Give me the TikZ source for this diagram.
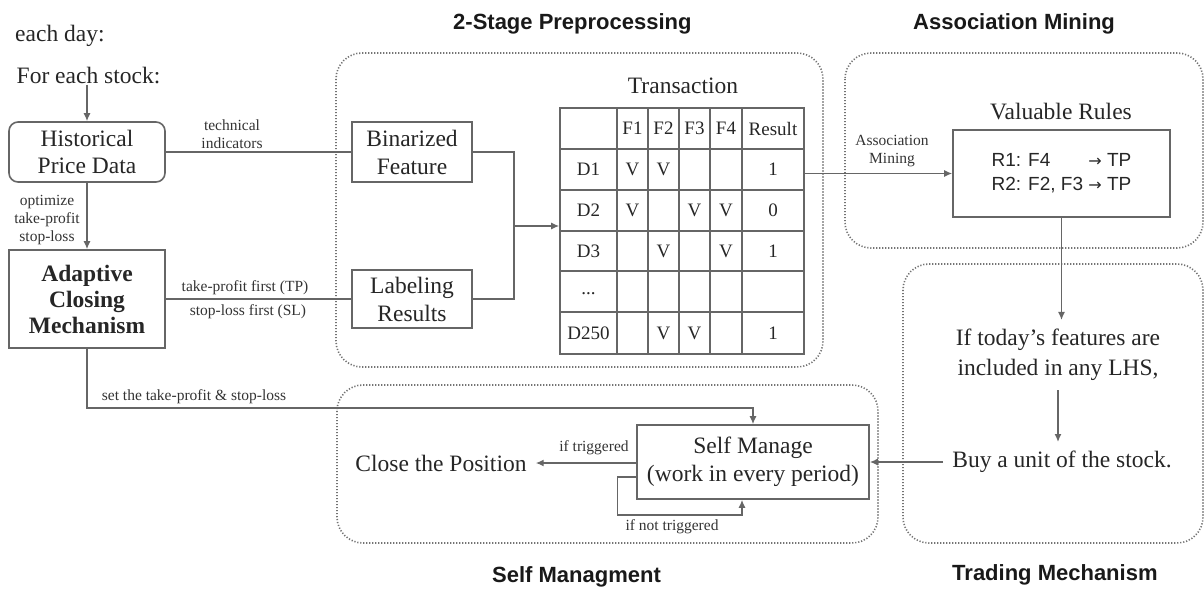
\documentclass[tikz,border=0pt]{standalone}
\usepackage{fontspec}
\setmainfont{Liberation Serif}
\setsansfont{Liberation Sans}
\newfontfamily\djv{DejaVu Sans}
\usetikzlibrary{arrows.meta}
\tikzset{
  lc/.style={draw=black!60, line width=1.4pt},
  arr/.style={lc, -{Latex[length=8pt,width=7pt]}},
  box/.style={draw=black!60, line width=1.6pt, fill=white, text=black!85, align=center, inner sep=0pt, font=\fontsize{23.5}{27}\selectfont},
  txt/.style={text=black!85, align=center, font=\fontsize{23.5}{30}\selectfont, inner sep=9pt},
  small/.style={text=black!80, align=center, font=\fontsize{15.5}{18}\selectfont, inner sep=0pt},
  group/.style={draw=black!55, line width=1.6pt, dash pattern=on 1.2pt off 1.8pt, rounded corners=26pt},
  title/.style={font=\sffamily\bfseries\fontsize{22}{26}\selectfont, text=black!90, anchor=west, inner sep=0pt},
  cell/.style={font=\fontsize{19}{22}\selectfont, text=black!85, inner sep=0pt},
  grid/.style={draw=black!60, line width=1.4pt},
}
\newcommand{\rarr}{{\djv\fontsize{16}{20}\selectfont →}}
\begin{document}
\begin{tikzpicture}[x=1pt, y=-1pt]
\useasboundingbox (0,0) rectangle (1204,590);

% group frames
\draw[group] (336,53) rectangle (823,367);
\draw[group] (845,53) rectangle (1203,248);
\draw[group] (903,264) rectangle (1203,543);
\draw[group] (337,385) rectangle (878,543);

% titles
\node[title] (t1) at (453,24) {2-Stage Preprocessing};
\node[title] (t2) at (913,24) {Association Mining};
\node[title] (t3) at (492,577) {Self Managment};
\node[title] (t4) at (952,575) {Trading Mechanism};

% left column
\node[txt, anchor=west, inner sep=0pt] (eachday) at (15,36) {each day:};
\node[txt, inner sep=0pt] (fes) at (88.5,76) {For each stock:};
\node[box, rounded corners=9pt, minimum width=156pt, minimum height=60pt] (hpd) at (87,152) {Historical\\Price Data};
\node[box, minimum width=156pt, minimum height=98pt, font=\bfseries\fontsize{23.5}{26}\selectfont] (acm) at (87,299) {Adaptive\\Closing\\Mechanism};

% preprocessing
\node[box, minimum width=120pt, minimum height=60pt, font=\fontsize{23.5}{28}\selectfont] (bin) at (412,152) {Binarized\\Feature};
\node[box, minimum width=120pt, minimum height=58pt, font=\fontsize{23.5}{28}\selectfont] (lab) at (412,299) {Labeling\\Results};
\coordinate (merge) at (514,226);

% table
\node[txt, inner sep=0pt] (trans) at (683,86) {Transaction};
\node[draw=black!60, line width=1.6pt, minimum width=244pt, minimum height=246pt, inner sep=0pt] (tab) at (682,231) {};
\foreach \x in {617,648,679,710,742} \draw[grid] (\x,108) -- (\x,354);
\foreach \y in {149,190,231,271,312} \draw[grid] (560,\y) -- (804,\y);
\foreach \x/\t [count=\i] in {632.5/F1, 663.5/F2, 694.5/F3, 726/F4, 773/Result}
  \node[cell] (h\i) at (\x,128.5) {\t};
\foreach \y/\t [count=\i] in {169.5/D1, 210.5/D2, 251.5/D3, 294/{...}, 333/D250}
  \node[cell] (d\i) at (588.5,\y) {\t};
\foreach \x/\y [count=\i] in {632.5/169.5, 663.5/169.5, 632.5/210.5, 694.5/210.5, 726/210.5, 663.5/251.5, 726/251.5, 663.5/333, 694.5/333}
  \node[cell] (v\i) at (\x,\y) {V};
\foreach \y/\t [count=\i] in {169.5/1, 210.5/0, 251.5/1, 333/1}
  \node[cell] (r\i) at (773,\y) {\t};

% association mining
\node[txt, inner sep=0pt] (vrt) at (1061,112) {Valuable Rules};
\node[box, minimum width=217pt, minimum height=87pt, font=\sffamily\fontsize{19}{24}\selectfont] (vr) at (1061.5,173.5)
  {\begin{tabular}{@{}l@{ }l@{}}R1: F4 & \rarr\ TP\\ R2: F2, F3 & \rarr\ TP\end{tabular}};

% trading mechanism
\node[txt] (iftext) at (1058,355) {If today’s features are\\included in any LHS,};
\node[txt] (buy) at (1062,462) {Buy a unit of the stock.};

% self management
\node[box, minimum width=232pt, minimum height=74pt, font=\fontsize{23.5}{28}\selectfont] (sm) at (753,462) {Self Manage\\(work in every period)};
\node[txt] (close) at (441,463) {Close the Position};

% connectors
\draw[arr] (fes.south -| hpd.north) -- (hpd.north);
\draw[lc] (hpd.east) -- (bin.west);
\draw[arr] (hpd.south) -- (acm.north);
\draw[lc] (acm.east) -- (lab.west);
\draw[lc] (bin.east) -| (merge) |- (lab.east);
\draw[arr] (merge) -- (merge -| tab.west);
\draw[arr] (vr.west -| tab.east) -- (vr.west);
\draw[arr] (vr.south) -- (vr.south |- iftext.north);
\draw[arr] (iftext.south) -- (iftext.south |- buy.north);
\draw[arr] (buy.west) -- (sm.east);
\draw[arr] (acm.south) -- (acm.south |- 0,408) -| (sm.north);
\draw[arr] (sm.west |- close.east) -- (close.east);
\draw[arr] ([yshift=-15pt]sm.west) -- ++(-19,0) |- ([xshift=-11pt]sm.south |- 0,515) -- ([xshift=-11pt]sm.south);

% edge labels
\node[small] (l1) at (232,134) {technical\\indicators};
\node[small] (l2) at (47,220) {optimize\\take-profit\\stop-loss};
\node[small] (l3) at (245,288) {take-profit first (TP)};
\node[small] (l4) at (248,312) {stop-loss first (SL)};
\node[small] (l5) at (194,397) {set the take-profit \& stop-loss};
\node[small] (l6) at (892,151) {Association\\Mining};
\node[small] (l7) at (594,448) {if triggered};
\node[small] (l8) at (672,527) {if not triggered};
\end{tikzpicture}
\end{document}
